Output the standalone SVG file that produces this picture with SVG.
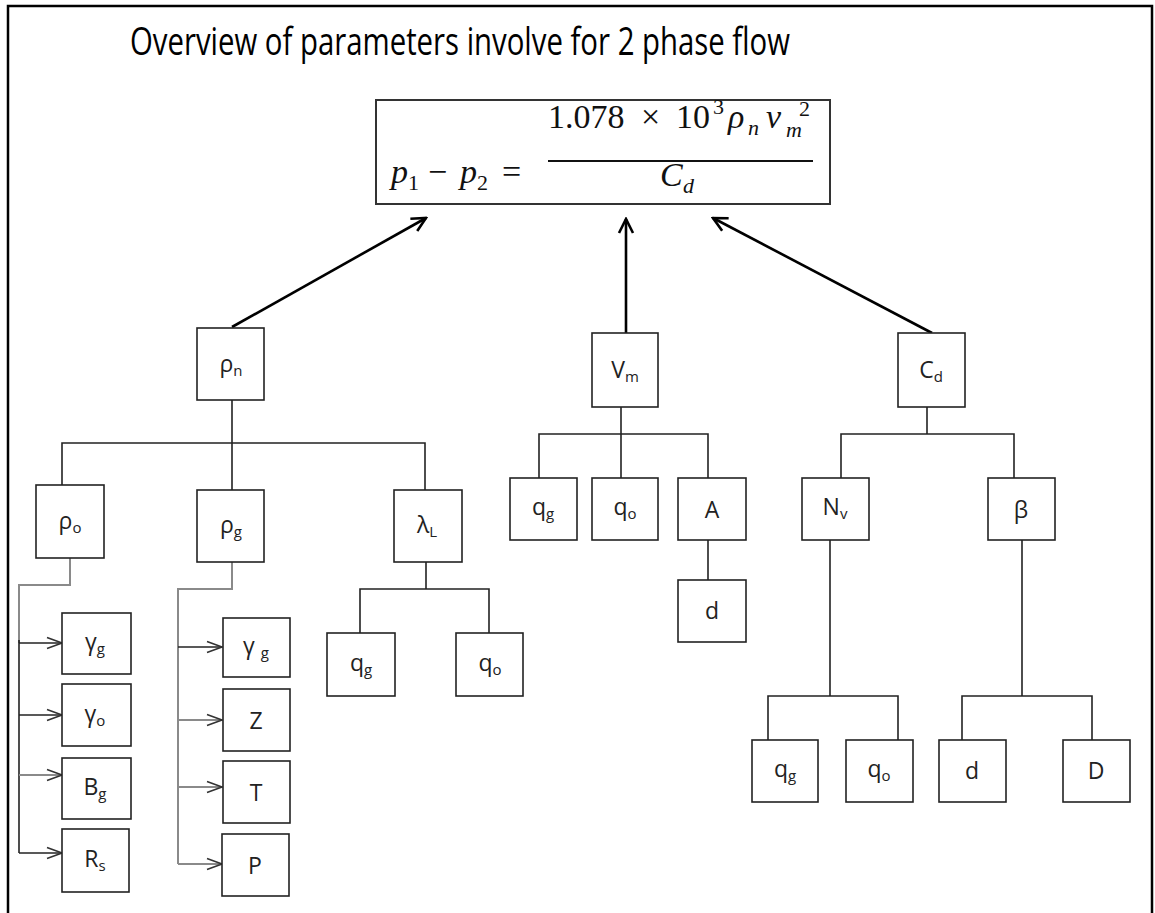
<svg xmlns="http://www.w3.org/2000/svg" width="1155" height="913" viewBox="0 0 1155 913">
<style>
.box{fill:#fff;stroke:#222;stroke-width:1.6}
.ln{fill:none;stroke:#222;stroke-width:1.6}
.gl{fill:none;stroke:#8a8a8a;stroke-width:2}
.big{fill:none;stroke:#000;stroke-width:2.6}
.lb{font-family:"Open Sans","Liberation Sans",sans-serif;font-size:23px;fill:#222;text-anchor:middle}
.sub{font-size:15px}
.m{font-family:"Liberation Serif","DejaVu Serif",serif;font-size:34px;fill:#111}
.mi{font-style:italic}
.ms{font-family:"Liberation Serif","DejaVu Serif",serif;font-size:22px;fill:#111}
</style>
<defs>
<marker id="ah" viewBox="0 0 18 18" refX="16" refY="9" markerWidth="18" markerHeight="18" markerUnits="userSpaceOnUse" orient="auto">
<path d="M2,2 L16,9 L2,16" fill="none" stroke="#000" stroke-width="2.6"/>
</marker>
<marker id="sh" viewBox="0 0 18 14" refX="17" refY="7" markerWidth="18" markerHeight="14" markerUnits="userSpaceOnUse" orient="auto">
<path d="M2,1.5 L17,7 L2,12.5" fill="none" stroke="#333" stroke-width="1.6"/>
</marker>
</defs>
<rect width="1155" height="913" fill="#fff"/>
<rect x="8" y="6" width="1144" height="930" fill="none" stroke="#000" stroke-width="2.5"/>
<text x="130" y="55" font-family="Open Sans, Liberation Sans, sans-serif" font-size="38" fill="#000" textLength="660" lengthAdjust="spacingAndGlyphs">Overview of parameters involve for 2 phase flow</text>

<g id="connectors">
<line class="big" x1="232" y1="327" x2="426" y2="218" marker-end="url(#ah)"/>
<line class="big" x1="626" y1="333" x2="626" y2="219" marker-end="url(#ah)"/>
<line class="big" x1="932" y1="333" x2="713" y2="218" marker-end="url(#ah)"/>
<path class="ln" d="M232,400 V490 M62,485 V443 H425 V490"/>
<path class="ln" d="M426,562 V589 M360,633 V589 H489 V633"/>
<path class="gl" d="M70,558 V585 H19 V643"/>
<path class="ln" d="M19,640 V853"/>
<line class="ln" x1="19" y1="643" x2="62" y2="643" marker-end="url(#sh)"/>
<line class="ln" x1="19" y1="715" x2="62" y2="715" marker-end="url(#sh)"/>
<line class="gl" x1="19" y1="775" x2="62" y2="775" marker-end="url(#sh)"/>
<line class="ln" x1="19" y1="853" x2="62" y2="853" marker-end="url(#sh)"/>
<path class="gl" d="M232,562 V589 H178 V864"/>
<line class="ln" x1="178" y1="647" x2="222" y2="647" marker-end="url(#sh)"/>
<line class="gl" x1="178" y1="720" x2="222" y2="720" marker-end="url(#sh)"/>
<line class="gl" x1="178" y1="787" x2="222" y2="787" marker-end="url(#sh)"/>
<line class="gl" x1="178" y1="864" x2="222" y2="864" marker-end="url(#sh)"/>
<path class="ln" d="M621,407 V478 M539,478 V434 H708 V478 M708,540 V580"/>
<path class="ln" d="M927,407 V434 M841,478 V434 H1014 V478"/>
<path class="ln" d="M830,540 V696 M768,740 V696 H898 V740"/>
<path class="ln" d="M1022,540 V696 M962,740 V696 H1092 V740"/>
</g>

<g id="formula">
<rect x="376" y="100" width="454" height="104" fill="#fff" stroke="#333" stroke-width="2"/>
<text class="m mi" x="391" y="183">p</text>
<text class="ms" x="408" y="190">1</text>
<text class="m" x="428" y="183">−</text>
<text class="m mi" x="460" y="183">p</text>
<text class="ms" x="477" y="190">2</text>
<text class="m" x="502" y="183">=</text>
<line x1="548" y1="161" x2="813" y2="161" stroke="#111" stroke-width="1.8"/>
<text class="m" x="548" y="128">1.078</text>
<text class="m" x="641" y="128">×</text>
<text class="m" x="676" y="128">10</text>
<text class="ms" x="713" y="114">3</text>
<text class="m mi" x="728" y="128">ρ</text>
<text class="ms mi" x="748" y="135">n</text>
<text class="m mi" x="766" y="128">v</text>
<text class="ms" x="799" y="116">2</text>
<text class="ms mi" x="786" y="137">m</text>
<text class="m mi" x="660" y="186">C</text>
<text class="ms mi" x="683" y="193">d</text>
</g>

<g id="rho_n"><rect class="box" x="197" y="328" width="67" height="72"/><text class="lb" x="231" y="372">ρ<tspan class="sub" dy="4">n</tspan></text></g>
<g id="Vm"><rect class="box" x="592" y="333" width="66" height="74"/><text class="lb" x="625" y="378">V<tspan class="sub" dy="4">m</tspan></text></g>
<g id="Cd"><rect class="box" x="898" y="333" width="67" height="74"/><text class="lb" x="931" y="378">C<tspan class="sub" dy="4">d</tspan></text></g>

<g id="rho_o"><rect class="box" x="36" y="485" width="68" height="73"/><text class="lb" x="70" y="529">ρ<tspan class="sub" dy="4">o</tspan></text></g>
<g id="rho_g"><rect class="box" x="197" y="490" width="67" height="72"/><text class="lb" x="231" y="533">ρ<tspan class="sub" dy="4">g</tspan></text></g>
<g id="lambda_L"><rect class="box" x="394" y="490" width="68" height="72"/><text class="lb" x="427" y="533">λ<tspan class="sub" dy="4">L</tspan></text></g>

<g id="lq_g"><rect class="box" x="327" y="633" width="68" height="63"/><text class="lb" x="361" y="671">q<tspan class="sub" dy="4">g</tspan></text></g>
<g id="lq_o"><rect class="box" x="456" y="633" width="67" height="63"/><text class="lb" x="490" y="671">q<tspan class="sub" dy="4">o</tspan></text></g>

<g id="vq_g"><rect class="box" x="510" y="478" width="67" height="62"/><text class="lb" x="543" y="515">q<tspan class="sub" dy="4">g</tspan></text></g>
<g id="vq_o"><rect class="box" x="592" y="478" width="66" height="62"/><text class="lb" x="625" y="515">q<tspan class="sub" dy="4">o</tspan></text></g>
<g id="A"><rect class="box" x="678" y="478" width="68" height="62"/><text class="lb" x="712" y="518">A</text></g>
<g id="vd"><rect class="box" x="678" y="580" width="68" height="62"/><text class="lb" x="712" y="619">d</text></g>

<g id="Nv"><rect class="box" x="802" y="478" width="67" height="62"/><text class="lb" x="835" y="515">N<tspan class="sub" dy="4">v</tspan></text></g>
<g id="beta"><rect class="box" x="988" y="478" width="67" height="62"/><text class="lb" x="1021" y="518">β</text></g>

<g id="nq_g"><rect class="box" x="752" y="740" width="66" height="62"/><text class="lb" x="785" y="777">q<tspan class="sub" dy="4">g</tspan></text></g>
<g id="nq_o"><rect class="box" x="846" y="740" width="67" height="62"/><text class="lb" x="879" y="777">q<tspan class="sub" dy="4">o</tspan></text></g>
<g id="bd"><rect class="box" x="939" y="740" width="67" height="62"/><text class="lb" x="972" y="779">d</text></g>
<g id="bD"><rect class="box" x="1063" y="740" width="67" height="62"/><text class="lb" x="1096" y="779">D</text></g>

<g id="gamma_g1"><rect class="box" x="62" y="613" width="69" height="61"/><text class="lb" x="95" y="650">γ<tspan class="sub" dy="4">g</tspan></text></g>
<g id="gamma_o"><rect class="box" x="62" y="684" width="69" height="62"/><text class="lb" x="95" y="722">γ<tspan class="sub" dy="4">o</tspan></text></g>
<g id="B_g"><rect class="box" x="62" y="758" width="69" height="61"/><text class="lb" x="95" y="795">B<tspan class="sub" dy="4">g</tspan></text></g>
<g id="R_s"><rect class="box" x="62" y="829" width="67" height="63"/><text class="lb" x="95" y="867">R<tspan class="sub" dy="4">s</tspan></text></g>

<g id="gamma_g2"><rect class="box" x="223" y="618" width="67" height="59"/><text class="lb" x="256" y="654">γ <tspan class="sub" dy="4">g</tspan></text></g>
<g id="Z"><rect class="box" x="223" y="689" width="67" height="62"/><text class="lb" x="256" y="729">Z</text></g>
<g id="T"><rect class="box" x="223" y="761" width="67" height="62"/><text class="lb" x="256" y="801">T</text></g>
<g id="P"><rect class="box" x="222" y="834" width="67" height="62"/><text class="lb" x="255" y="874">P</text></g>
</svg>
